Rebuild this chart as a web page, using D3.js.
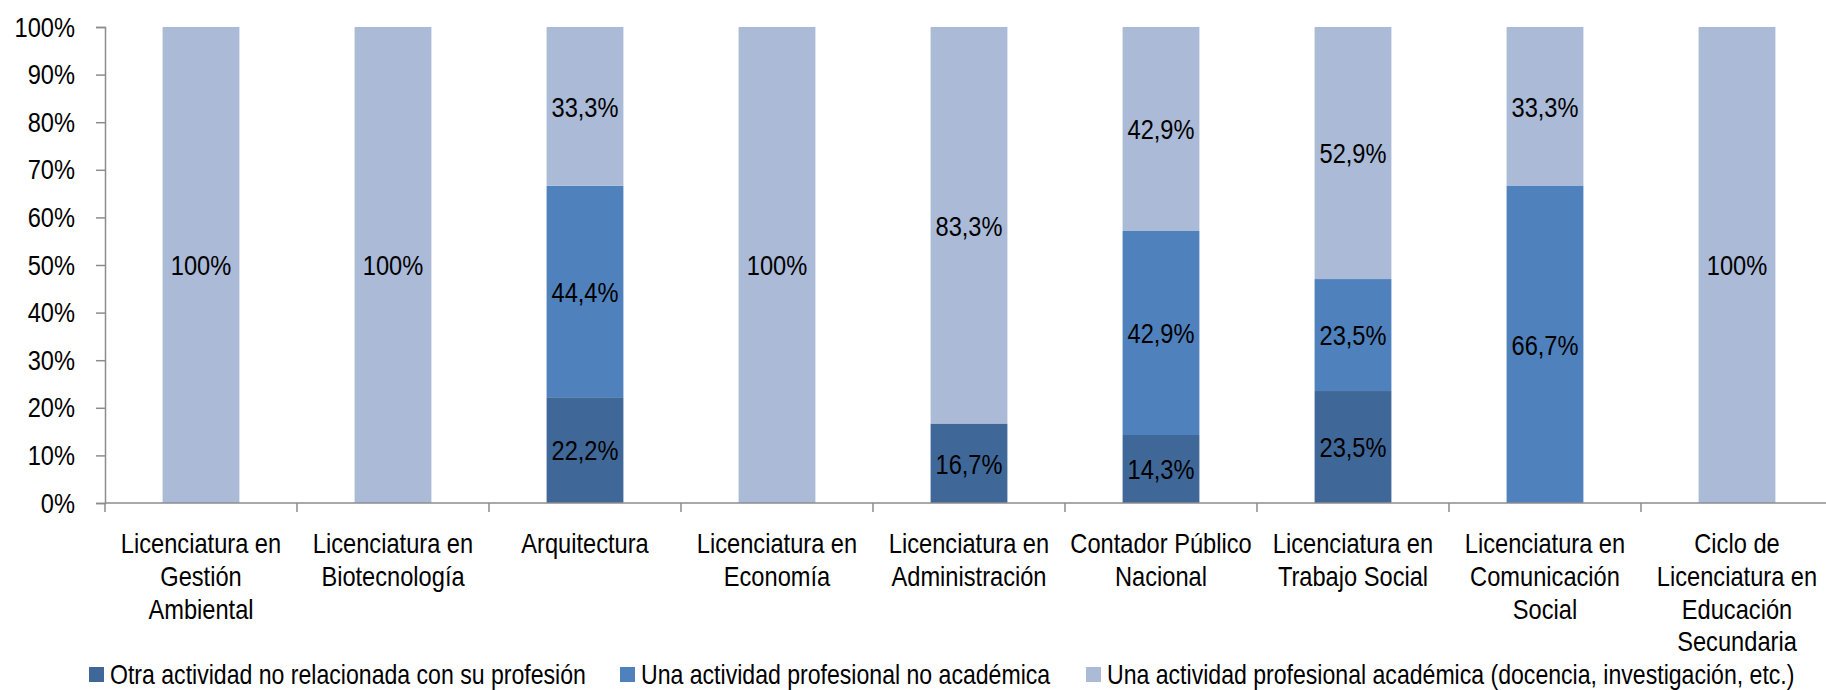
<!DOCTYPE html>
<html>
<head>
<meta charset="utf-8">
<script src="https://cdn.jsdelivr.net/npm/d3@7"></script>
<style>
  html, body { margin: 0; padding: 0; background: #ffffff; }
  svg { display: block; }
  text { font-family: 'Liberation Sans Narrow', 'Arial Narrow', 'Liberation Sans', Arial, sans-serif; fill: #000; }
</style>
</head>
<body>
<svg id="chart" width="1826" height="690"></svg>
<script>
// Carreras (each entry is a list of label lines)
const categories = [
  ["Licenciatura en", "Gestión", "Ambiental"],
  ["Licenciatura en", "Biotecnología"],
  ["Arquitectura"],
  ["Licenciatura en", "Economía"],
  ["Licenciatura en", "Administración"],
  ["Contador Público", "Nacional"],
  ["Licenciatura en", "Trabajo Social"],
  ["Licenciatura en", "Comunicación", "Social"],
  ["Ciclo de", "Licenciatura en", "Educación", "Secundaria"]
];

const seriesNames = [
  "Otra actividad no relacionada con su profesión",
  "Una actividad profesional no académica",
  "Una actividad profesional académica (docencia, investigación, etc.)"
];

// Percentages per carrera, one array per series
const otraActividad      = [0, 0, 22.2, 0, 16.7, 14.3, 23.5, 0, 0];
const profNoAcademica    = [0, 0, 44.4, 0, 0, 42.9, 23.5, 66.7, 0];
const profAcademica      = [100, 100, 33.3, 100, 83.3, 42.9, 52.9, 33.3, 100];

const yTicks = [0, 10, 20, 30, 40, 50, 60, 70, 80, 90, 100];

const colors = ["#3f6899", "#4f81bd", "#aabad7"];

// Horizontal squeeze giving a narrow sans look
const SX = 0.83;
const SX_LEGEND = 0.81;
const FS = 28.5;

const svg = d3.select("#chart");
const margin = { left: 105, top: 27, bottom: 503 };
const step = 192;
const plotRight = margin.left + step * categories.length;

const keys = ["s0", "s1", "s2"];
const rows = categories.map((c, i) => ({
  idx: i,
  s0: otraActividad[i],
  s1: profNoAcademica[i],
  s2: profAcademica[i]
}));

// 100% stacked layout
const stacked = d3.stack().keys(keys).offset(d3.stackOffsetExpand)(rows);

const x = d3.scaleBand()
  .domain(d3.range(categories.length))
  .range([margin.left, plotRight])
  .paddingInner(0.6)
  .paddingOuter(0.3);

const y = d3.scaleLinear().domain([0, 1]).range([margin.bottom, margin.top]);

// Bars
const layers = svg.append("g").selectAll("g")
  .data(stacked)
  .join("g")
  .attr("fill", (d, i) => colors[i]);

layers.selectAll("rect")
  .data(d => d)
  .join("rect")
  .attr("x", d => x(d.data.idx))
  .attr("width", x.bandwidth())
  .attr("y", d => y(d[1]))
  .attr("height", d => y(d[0]) - y(d[1]));

// Value labels
const fmt = v => (v === 100 ? "100" : d3.format(".1f")(v).replace(".", ",")) + "%";
stacked.forEach((layer, si) => {
  svg.append("g").selectAll("text")
    .data(layer.filter(d => d.data[keys[si]] > 0))
    .join("text")
    .attr("transform", d =>
      `translate(${x(d.data.idx) + x.bandwidth() / 2},${y((d[0] + d[1]) / 2)}) scale(${SX},1)`)
    .attr("dy", "0.36em")
    .attr("text-anchor", "middle")
    .attr("font-size", FS)
    .text(d => fmt(d.data[keys[si]]));
});

// Y axis
const yAxis = d3.axisLeft(y)
  .tickValues(yTicks.map(t => t / 100))
  .tickFormat(d => Math.round(d * 100) + "%")
  .tickSize(9);

const gy = svg.append("g")
  .attr("transform", `translate(${margin.left},0)`)
  .call(yAxis);
gy.select(".domain").attr("stroke", "#8c8c8c").attr("stroke-width", 1.5);
gy.selectAll(".tick line").attr("stroke", "#8c8c8c").attr("stroke-width", 1.5);
gy.selectAll(".tick text")
  .attr("font-size", FS)
  .attr("fill", "#000")
  .attr("x", -30 / SX)
  .attr("transform", `scale(${SX},1)`)
  .style("font-family", "'Liberation Sans Narrow', 'Arial Narrow', 'Liberation Sans', Arial, sans-serif");

// X axis baseline with category separators
const gx = svg.append("g");
gx.append("line")
  .attr("x1", margin.left).attr("x2", 1826)
  .attr("y1", y(0)).attr("y2", y(0))
  .attr("stroke", "#8c8c8c").attr("stroke-width", 1.5);
gx.selectAll("line.sep")
  .data(d3.range(categories.length + 1))
  .join("line")
  .attr("class", "sep")
  .attr("x1", i => margin.left + i * step)
  .attr("x2", i => margin.left + i * step)
  .attr("y1", y(0))
  .attr("y2", y(0) + 9)
  .attr("stroke", "#8c8c8c").attr("stroke-width", 1.5);

// Category labels
const catG = svg.append("g").selectAll("text")
  .data(categories)
  .join("text")
  .attr("text-anchor", "middle")
  .attr("font-size", FS)
  .attr("transform", (d, i) => `translate(${x(i) + x.bandwidth() / 2},553) scale(${SX},1)`);
catG.selectAll("tspan")
  .data(d => d)
  .join("tspan")
  .attr("x", 0)
  .attr("y", (d, j) => j * 32.8)
  .text(d => d);

// Legend
const legendX = [89, 620, 1086];
const legend = svg.append("g").selectAll("g")
  .data(seriesNames)
  .join("g")
  .attr("transform", (d, i) => `translate(${legendX[i]},0)`);
legend.append("rect")
  .attr("x", 0).attr("y", 667)
  .attr("width", 15).attr("height", 15)
  .attr("fill", (d, i) => colors[i]);
legend.append("text")
  .attr("transform", `translate(21,684) scale(${SX_LEGEND},1)`)
  .attr("font-size", FS)
  .text(d => d);
</script>
</body>
</html>
